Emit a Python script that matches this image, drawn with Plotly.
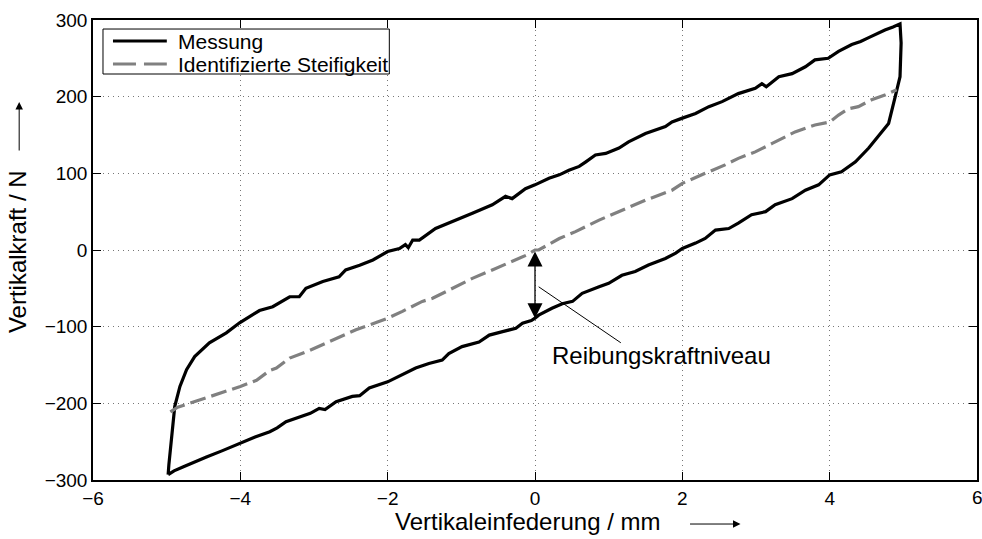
import plotly.graph_objects as go

# Messung (hysteresis loop): lower branch left->right, right flank, upper branch right->left, left flank
mess_x = [-4.98, -4.90, -4.78, -4.62, -4.46, -4.25, -4.01, -3.80, -3.60, -3.50, -3.38, -3.15, -3.05, -2.93,
          -2.85, -2.70, -2.48, -2.38, -2.25, -2.00, -1.80, -1.62, -1.44, -1.26, -1.17, -0.99, -0.76, -0.62,
          -0.44, -0.26, -0.17, -0.05, 0.00, 0.05, 0.23, 0.37, 0.51, 0.64, 0.87, 1.00, 1.18, 1.36, 1.54, 1.77,
          1.91, 2.00, 2.18, 2.31, 2.45, 2.63, 2.76, 2.94, 3.13, 3.26, 3.49, 3.67, 3.85, 4.00, 4.16, 4.35,
          4.53, 4.66, 4.80, 4.89, 4.955, 4.97, 4.96, 4.955,
          4.86, 4.75, 4.53, 4.42, 4.30, 4.12, 3.98, 3.80, 3.67, 3.49, 3.31, 3.14, 3.08, 2.99, 2.76, 2.54,
          2.36, 2.18, 2.00, 1.86, 1.77, 1.64, 1.50, 1.27, 1.14, 0.96, 0.82, 0.69, 0.60, 0.46, 0.33, 0.19,
          0.05, 0.00, -0.13, -0.31, -0.40, -0.58, -0.85, -1.03, -1.35, -1.57, -1.66, -1.72, -1.76, -1.84,
          -2.00, -2.20, -2.38, -2.57, -2.66, -2.88, -3.11, -3.20, -3.33, -3.56, -3.74, -4.01, -4.19, -4.42,
          -4.62, -4.73, -4.82, -4.89, -4.94, -4.97, -4.98]
mess_y = [-293, -288, -283, -276, -270, -262, -252, -244, -237, -232, -224, -217, -213, -206.5,
          -208, -198, -191, -190, -180, -172, -163, -154, -148, -143.5, -135, -126, -120, -111,
          -106.5, -102, -95.6, -92, -89, -85, -76, -70, -67, -56.5, -48, -43.5, -33, -28, -19.5, -11,
          -4, 2, 9, 15, 26, 28, 35, 46, 50, 59, 67, 78, 85, 98, 102, 115,
          133, 148, 165, 200, 226, 270, 288, 295,
          291, 287, 277, 272, 268, 259, 250, 248, 239, 230, 226, 213, 217, 211, 204, 193.5,
          187, 178, 172, 167, 161, 156.5, 152, 141, 133, 126, 124, 115, 109, 104, 98, 93.5,
          87, 85, 80, 67, 70, 59, 48, 41, 28, 13, 13, 3, 7, 2,
          -2, -13, -20, -26, -35, -41, -50, -61, -61, -74, -79, -95, -108, -121,
          -139, -156, -178, -204, -248, -280, -293]

# Identifizierte Steifigkeit
stf_x = [-4.95, -4.85, -4.69, -4.50, -4.24, -4.00, -3.78, -3.60, -3.51, -3.33, -3.06, -2.75, -2.43, -2.11,
         -2.00, -1.80, -1.71, -1.53, -1.39, -1.17, -0.85, -0.58, -0.31, -0.10, 0.00, 0.05, 0.33, 0.55,
         0.87, 1.14, 1.50, 1.86, 2.00, 2.31, 2.58, 2.76, 2.99, 3.22, 3.53, 3.80, 4.00, 4.12, 4.25, 4.39,
         4.57, 4.75, 4.91]
stf_y = [-211, -205, -200, -194, -185, -178, -170, -157, -154, -141, -131, -118, -104, -93,
         -89, -80, -76, -67, -63, -52, -37, -26, -15, -6, 0, 0, 15, 24,
         39, 50, 65, 78, 87, 100, 111, 119.5, 128, 139, 154, 163, 167, 176, 184, 187,
         196, 202, 209]

series_names = ["Messung", "Identifizierte Steifigkeit"]
x_ticks = [-6, -4, -2, 0, 2, 4, 6]
y_ticks = [-300, -200, -100, 0, 100, 200, 300]

# annotation: friction force level
fric_x = 0.0
fric_top = 0.0
fric_bottom = -89
lead_start = (0.05, -48)
lead_end = (1.165, -121)
label_pos = (1.72, -138)

FONT = "Liberation Sans, Arial, sans-serif"
MESS_STYLE = dict(color="black", width=3.2)
STF_STYLE = dict(color="#808080", width=3.2, dash="16px,6px")

fig = go.Figure()
fig.add_trace(go.Scatter(x=mess_x, y=mess_y, mode="lines", name=series_names[0], line=MESS_STYLE))
fig.add_trace(go.Scatter(x=stf_x, y=stf_y, mode="lines", name=series_names[1], line=STF_STYLE))

def fmt(v):
    return f"{v}".replace("-", "\u2212")

axis_common = dict(showline=True, mirror="ticks", linecolor="black", linewidth=1.5,
                   ticks="inside", ticklen=8, tickwidth=1, tickcolor="black",
                   showgrid=True, gridcolor="#777", griddash="1px,4px", gridwidth=1,
                   zeroline=False, tickfont=dict(family=FONT, size=19, color="black"))

fig.update_xaxes(range=[-6, 6], tickvals=x_ticks, ticktext=[fmt(v) if v != 6 else "" for v in x_ticks],
                 **axis_common)
fig.update_yaxes(range=[-300, 300], tickvals=y_ticks, ticktext=[fmt(v) for v in y_ticks], **axis_common)

annotations = [
    # double arrow (friction level)
    dict(x=fric_x, y=fric_bottom, ax=fric_x, ay=fric_top, xref="x", yref="y", axref="x", ayref="y",
         text="", showarrow=True, arrowhead=2, arrowside="end+start", arrowsize=2.3, arrowwidth=1.3,
         arrowcolor="black"),
    dict(x=label_pos[0], y=label_pos[1], xref="x", yref="y", text="Reibungskraftniveau",
         showarrow=False, font=dict(family=FONT, size=24, color="black")),
    # last x tick label (cut at the right edge like in the original)
    dict(x=x_ticks[-1], y=-0.039, xref="x", yref="paper", text=fmt(x_ticks[-1]),
         showarrow=False, xanchor="center", yanchor="middle", font=dict(family=FONT, size=19, color="black")),
    # axis titles
    dict(x=0.491, y=-0.0913, xref="paper", yref="paper", text="Vertikaleinfederung / mm",
         showarrow=False, font=dict(family=FONT, size=24, color="black"), yanchor="middle"),
    dict(x=-0.0847, y=0.4957, xref="paper", yref="paper", text="Vertikalkraft / N", textangle=-90,
         showarrow=False, font=dict(family=FONT, size=24, color="black"), xanchor="center"),
    # axis arrows
    dict(x=0.7325, y=-0.0957, xref="paper", yref="paper", ax=-52, ay=0, text="", showarrow=True,
         arrowhead=2, arrowsize=1.5, arrowwidth=1, arrowcolor="black"),
    dict(x=-0.0835, y=0.8217, xref="paper", yref="paper", ax=0, ay=50, text="", showarrow=True,
         arrowhead=2, arrowsize=1.5, arrowwidth=1, arrowcolor="black"),
]

# legend (drawn manually to match the compact MATLAB legend box)
leg_box = dict(x0=0.0113, x1=0.3352, y0=0.8826, y1=0.9804)
leg_rows = [0.9543, 0.9043]
leg_line_x = (0.0226, 0.0835)
leg_text_x = 0.0937
for name, yy in zip(series_names, leg_rows):
    annotations.append(dict(x=leg_text_x, y=yy, xref="paper", yref="paper", text=name, showarrow=False,
                            xanchor="left", yanchor="middle", font=dict(family=FONT, size=21, color="black")))

shapes = [
    dict(type="line", xref="x", yref="y", x0=lead_start[0], y0=lead_start[1],
         x1=lead_end[0], y1=lead_end[1], line=dict(color="black", width=1)),
    dict(type="rect", xref="paper", yref="paper", **leg_box, fillcolor="white",
         line=dict(color="black", width=1)),
    dict(type="line", xref="paper", yref="paper", x0=leg_line_x[0], x1=leg_line_x[1],
         y0=leg_rows[0], y1=leg_rows[0], line=dict(color=MESS_STYLE["color"], width=3.2)),
    dict(type="line", xref="paper", yref="paper", x0=leg_line_x[0], x1=leg_line_x[1],
         y0=leg_rows[1], y1=leg_rows[1], line=dict(color=STF_STYLE["color"], width=3.2, dash="23px,8px")),
]

fig.update_layout(
    width=982, height=539,
    margin=dict(l=93, r=3, t=20, b=59),
    paper_bgcolor="white", plot_bgcolor="white",
    showlegend=False,
    annotations=annotations, shapes=shapes,
    font=dict(family=FONT, color="black"),
)

fig.write_html("out.html")
